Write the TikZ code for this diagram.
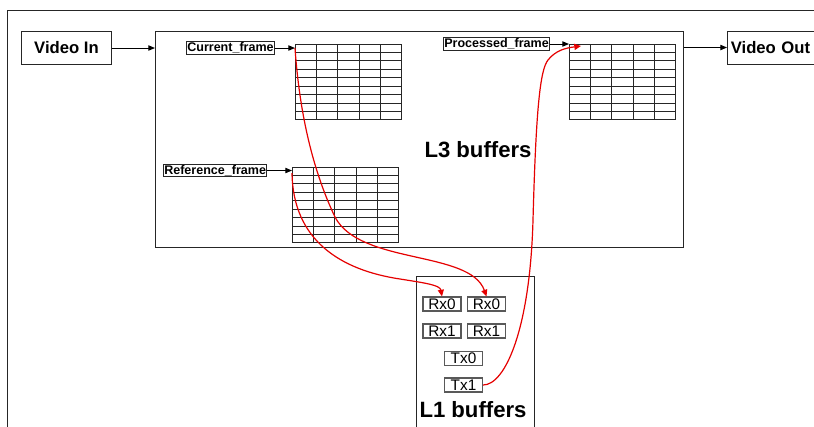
\documentclass[tikz,border=0pt]{standalone}
\usepackage{fontspec}
\setmainfont{Liberation Sans}
\usetikzlibrary{arrows.meta,calc}
\newcommand\myframegrid[3]{%
  \node[gridbox] (#1) at (#2,#3) {};
  \foreach \i in {1,...,4} \draw[gridline] ($(#1.north west)!\i/5!(#1.north east)$) -- ($(#1.south west)!\i/5!(#1.south east)$);
  \foreach \j in {1,...,8} \draw[gridline] ($(#1.north west)!\j/9!(#1.south west)$) -- ($(#1.north east)!\j/9!(#1.south east)$);
}
\begin{document}
\begin{tikzpicture}[x=0.75pt,y=-0.75pt,
  line width=0.75pt,
  bigbox/.style={draw=black!85, inner sep=0, anchor=north west},
  vid/.style={draw=black!85, inner sep=0, font=\fontsize{12.5}{14}\selectfont\bfseries},
  lbl/.style={draw=black!85, inner sep=0.6pt, anchor=west, font=\fontsize{9.4}{10}\selectfont\bfseries},
  buf/.style={draw=black!65, line width=0.9pt, inner sep=0, minimum width=28.5pt, minimum height=10.5pt, font=\fontsize{11.5}{12}\selectfont},
  title/.style={font=\fontsize{16.6}{18}\selectfont\bfseries},
  arr/.style={-{Triangle[length=5pt,width=4pt]}},
  redarr/.style={red!90!black, line width=0.9pt, -{Triangle[length=5pt,width=4.5pt]}},
  gridbox/.style={draw=black!85, line width=0.65pt, inner sep=0, anchor=north west, minimum width=79.5pt, minimum height=56.25pt},
  gridline/.style={black!85, line width=0.65pt}
]
\useasboundingbox (0,0) rectangle (814,426);
\clip (0,0) rectangle (814,426);
% outer frame
\draw[black!85] (7,440) -- (7,10) -- (830,10);
% L3 box
\node[bigbox, minimum width=396pt, minimum height=162pt] (l3) at (155,31) {};
% L1 box
\node[bigbox, minimum width=88.5pt, minimum height=130pt] (l1) at (416,276) {};
% video in / out
\node[vid, anchor=north west, minimum width=67.5pt, minimum height=24.75pt] (vin) at (21,31) {Video In};
\node[vid, anchor=west, inner xsep=2.5pt, text width=75pt, align=left, minimum height=24.75pt] (vout) at (727,47.5) {Video Out};
\draw[arr] (vin.east) -- (vin.east -| l3.west);
\draw[arr] (l3.east |- vout.west) -- (vout.west);
% grids
\myframegrid{cur}{295}{44}
\myframegrid{ref}{292}{167}
\myframegrid{proc}{569}{44}
% labels
\node[lbl] (cf) at (186,48) {Current\_frame};
\node[lbl] (rf) at (163,170.5) {Reference\_frame};
\node[lbl] (pf) at (443,44) {Processed\_frame};
\draw[arr] (cf.east) -- (cf.east -| cur.west);
\draw[arr] (rf.east) -- (rf.east -| ref.west);
\draw[arr] (pf.east) -- (pf.east -| proc.west);
% titles
\node[title] (l3t) at (478,150) {L3 buffers};
\node[title] (l1t) at (473,410) {L1 buffers};
% L1 buffers
\node[buf] (rx0a) at (442,304) {Rx0};
\node[buf] (rx0b) at (486.5,304) {Rx0};
\node[buf] (rx1a) at (442,331) {Rx1};
\node[buf] (rx1b) at (486.5,331) {Rx1};
\node[buf] (tx0) at (463.5,358.5) {Tx0};
\node[buf] (tx1) at (463.5,385) {Tx1};
% red connectors
\draw[redarr] ($(cur.north west)+(0,4)$) .. controls (300,120) and (315,175) .. (335,217) .. controls (360,265) and (470,250) .. (rx0b.north);
\draw[redarr] ($(ref.north west)+(0,6)$) .. controls (293,240) and (340,270) .. (400,279) .. controls (425,283) and (440,285) .. (rx0a.north);
\draw[redarr] (tx1.east) .. controls (505,385) and (530,330) .. (533,220) .. controls (536,110) and (540,70) .. (548,60) .. controls (556,50) and (566,48) .. ($(proc.north west)+(12,2)$);
\end{tikzpicture}
\end{document}
